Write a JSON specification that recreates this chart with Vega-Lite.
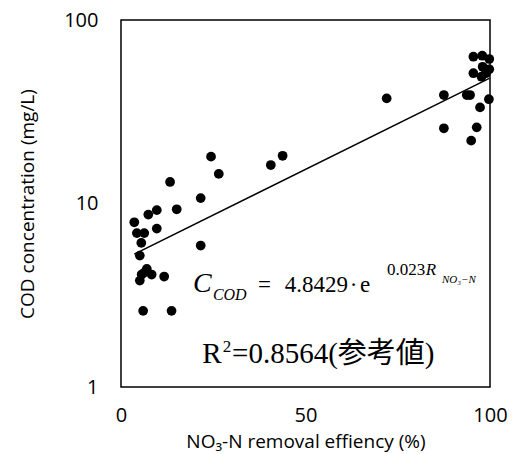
{
  "$schema": "https://vega.github.io/schema/vega-lite/v6.json",
  "width": 369,
  "height": 367,
  "autosize": "none",
  "padding": {"left": 121, "top": 20, "right": 24, "bottom": 67},
  "background": "white",
  "config": {
    "view": {"stroke": "black", "strokeWidth": 1.5},
    "axis": {
      "grid": false, "ticks": false, "domain": false, "labelFlush": false,
      "labelFont": "Open Sans", "labelFontSize": 20, "labelColor": "black",
      "titleFont": "Open Sans", "titleFontSize": 19, "titleFontWeight": "normal", "titleColor": "black"
    }
  },
  "datasets": {
    "pts": [
      {"x": 24.4, "y": 18.0}, {"x": 26.5, "y": 14.5}, {"x": 13.3, "y": 13.1}, {"x": 21.6, "y": 10.7},
      {"x": 40.6, "y": 16.2}, {"x": 43.8, "y": 18.2}, {"x": 15.1, "y": 9.3}, {"x": 9.7, "y": 9.2},
      {"x": 7.4, "y": 8.7}, {"x": 3.6, "y": 7.9}, {"x": 9.7, "y": 7.3}, {"x": 4.3, "y": 6.9},
      {"x": 6.3, "y": 6.9}, {"x": 5.5, "y": 6.1}, {"x": 21.6, "y": 5.9}, {"x": 5.1, "y": 5.2},
      {"x": 7.0, "y": 4.4}, {"x": 8.3, "y": 4.1}, {"x": 5.6, "y": 4.1}, {"x": 11.7, "y": 4.0},
      {"x": 5.1, "y": 3.8}, {"x": 6.3, "y": 4.2}, {"x": 6.0, "y": 2.6}, {"x": 13.7, "y": 2.6},
      {"x": 72.0, "y": 37.4}, {"x": 87.5, "y": 39.0}, {"x": 87.5, "y": 25.7}, {"x": 93.7, "y": 39.0},
      {"x": 94.6, "y": 39.0}, {"x": 97.3, "y": 33.4}, {"x": 99.7, "y": 37.0}, {"x": 96.4, "y": 26.0},
      {"x": 94.9, "y": 22.0}, {"x": 95.5, "y": 63.1}, {"x": 97.9, "y": 63.9}, {"x": 99.8, "y": 61.3},
      {"x": 95.5, "y": 51.3}, {"x": 98.0, "y": 55.6}, {"x": 99.8, "y": 53.9}, {"x": 97.7, "y": 49.1},
      {"x": 98.9, "y": 51.3}
    ],
    "fit": [{"x": 3.6, "y": 5.30}, {"x": 99.8, "y": 48.1}],
    "bigItalic": [{"x": 19.5, "y": 3.29, "t": "C"}],
    "subItalic": [{"x": 24.9, "y": 2.98, "t": "COD"}],
    "eqRegular": [
      {"x": 37.1, "y": 3.29, "t": "="},
      {"x": 44.4, "y": 3.29, "t": "4.8429"},
      {"x": 62.0, "y": 3.29, "t": "·"},
      {"x": 64.8, "y": 3.29, "t": "e"}
    ],
    "r2Regular": [
      {"x": 22.0, "y": 1.35, "t": "R"},
      {"x": 30.1, "y": 1.35, "t": "=0.8564(参考値)"}
    ],
    "supRegular": [
      {"x": 72.1, "y": 4.08, "t": "0.023"},
      {"x": 27.6, "y": 1.56, "t": "2"}
    ],
    "supItalic": [{"x": 82.6, "y": 4.08, "t": "R"}],
    "subsub": [{"x": 87.0, "y": 3.69, "t": "NO₃−N"}]
  },
  "encoding": {
    "x": {"field": "x", "type": "quantitative",
      "scale": {"domain": [0, 100], "nice": false, "zero": false},
      "axis": {"values": [0, 50, 100], "labelPadding": 18, "title": "NO₃-N removal effiency (%)", "titlePadding": 7}},
    "y": {"field": "y", "type": "quantitative",
      "scale": {"type": "log", "domain": [1, 100], "nice": false},
      "axis": {"values": [1, 10, 100], "labelPadding": 23, "title": "COD concentration (mg/L)", "titlePadding": 26}}
  },
  "layer": [
    {"data": {"name": "fit"}, "mark": {"type": "line", "color": "black", "strokeWidth": 1.5}},
    {"data": {"name": "pts"}, "mark": {"type": "point", "filled": true, "color": "black", "opacity": 1, "size": 95}},
    {"data": {"name": "bigItalic"}, "mark": {"type": "text", "align": "left", "baseline": "alphabetic", "font": "Liberation Serif", "fontStyle": "italic", "fontSize": 28, "color": "black"}, "encoding": {"text": {"field": "t"}}},
    {"data": {"name": "subItalic"}, "mark": {"type": "text", "align": "left", "baseline": "alphabetic", "font": "Liberation Serif", "fontStyle": "italic", "fontSize": 16, "color": "black"}, "encoding": {"text": {"field": "t"}}},
    {"data": {"name": "eqRegular"}, "mark": {"type": "text", "align": "left", "baseline": "alphabetic", "font": "Liberation Serif", "fontSize": 23, "color": "black"}, "encoding": {"text": {"field": "t"}}},
    {"data": {"name": "r2Regular"}, "mark": {"type": "text", "align": "left", "baseline": "alphabetic", "font": "Liberation Serif, Noto Sans CJK JP", "fontSize": 29, "color": "black"}, "encoding": {"text": {"field": "t"}}},
    {"data": {"name": "supRegular"}, "mark": {"type": "text", "align": "left", "baseline": "alphabetic", "font": "Liberation Serif", "fontSize": 17, "color": "black"}, "encoding": {"text": {"field": "t"}}},
    {"data": {"name": "supItalic"}, "mark": {"type": "text", "align": "left", "baseline": "alphabetic", "font": "Liberation Serif", "fontStyle": "italic", "fontSize": 17, "color": "black"}, "encoding": {"text": {"field": "t"}}},
    {"data": {"name": "subsub"}, "mark": {"type": "text", "align": "left", "baseline": "alphabetic", "font": "Liberation Serif", "fontStyle": "italic", "fontSize": 11, "color": "black"}, "encoding": {"text": {"field": "t"}}}
  ]
}
